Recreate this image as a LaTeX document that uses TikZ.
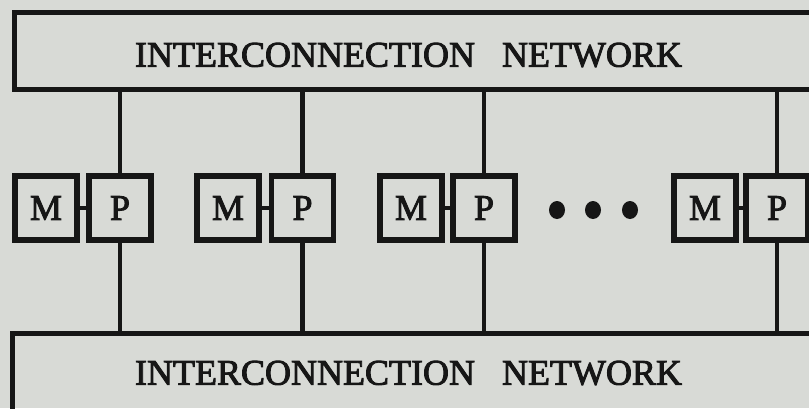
\documentclass[tikz,border=0pt]{standalone}
\usepackage{fontspec}
\usetikzlibrary{shapes.geometric}
\setmainfont{Liberation Serif}
\newfontfamily\heavyserif{Liberation Serif}[FakeBold=2.6]
\definecolor{paper}{RGB}{216,218,214}
\definecolor{ink}{RGB}{22,22,22}
\begin{document}
\begin{tikzpicture}[x=1pt,y=-1pt,
  netbox/.style={draw=ink,line width=5pt,rectangle,inner sep=0pt,outer sep=0pt},
  unit/.style={draw=ink,line width=5.5pt,rectangle,inner sep=0pt,outer sep=0pt,
    minimum width=62pt,minimum height=64pt,font=\heavyserif\fontsize{36}{40}\selectfont,text=ink},
  label/.style={inner sep=0pt,font=\heavyserif\fontsize{36}{40}\selectfont,text=ink},
  wire/.style={draw=ink,line width=4.5pt},
  dot/.style={fill=ink,ellipse,inner sep=0pt,minimum width=16pt,minimum height=18pt}]
\useasboundingbox (0,0) rectangle (809,408);
\clip (0,0) rectangle (809,408);
\fill[paper] (0,0) rectangle (809,408);
% networks
\node[netbox,minimum width=816pt,minimum height=76.5pt] (topnet) at (422.5,50.75) {};
\node[netbox,minimum width=818pt,minimum height=120pt] (botnet) at (421.5,393) {};
\node[label] (toptext) at (408.5,55) {INTERCONNECTION\hspace{27pt}NETWORK};
\node[label] (bottext) at (408.5,373) {INTERCONNECTION\hspace{27pt}NETWORK};
% units
\node[unit] (M1) at (46,208) {M};
\node[unit] (P1) at (120,208) {P};
\node[unit] (M2) at (228,208) {M};
\node[unit] (P2) at (302.5,208) {P};
\node[unit] (M3) at (411,208) {M};
\node[unit] (P3) at (484,208) {P};
\node[unit] (M4) at (705,208) {M};
\node[unit] (P4) at (777,208) {P};
% dots
\node[dot] (d1) at (557,210) {};
\node[dot] (d2) at (593,210) {};
\node[dot] (d3) at (630,210) {};
% wires
\foreach \i in {1,2,3,4}{
  \draw[wire] (M\i.east) -- (P\i.west);
  \draw[wire] (P\i.north) -- (P\i.north |- topnet.south);
  \draw[wire] (P\i.south) -- (P\i.south |- botnet.north);
}
\end{tikzpicture}
\end{document}
